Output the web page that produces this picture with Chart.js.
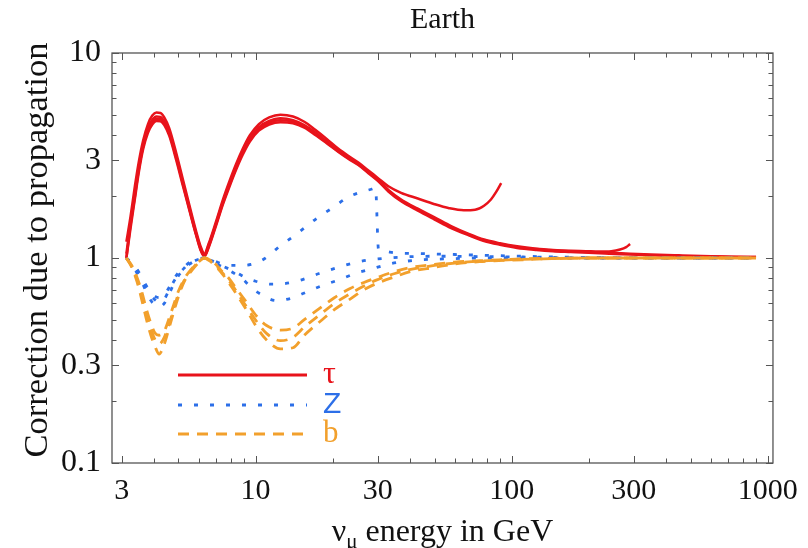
<!DOCTYPE html>
<html lang="en">
<head>
<meta charset="UTF-8">
<title>Earth - correction due to propagation</title>
<style>
  body { margin: 0; background: #fff; }
  #chart { display: block; }
</style>
</head>
<body>
<canvas id="chart" width="808" height="548"></canvas>
<script src="https://cdn.jsdelivr.net/npm/chart.js@4.4.9/dist/chart.umd.min.js"></script>
<script>
// tick labels
const xTickValues = [3, 10, 30, 100, 300, 1000];
const yTickValues = [0.1, 0.3, 1, 3, 10];

// tau curves (solid red): shared energies up to 30 GeV, then separate tails
const tauE = [3.13, 3.25, 3.38, 3.5, 3.64, 3.8, 3.95, 4.1, 4.25, 4.4, 4.6, 4.9, 5.2, 5.52, 5.85, 6.1, 6.31, 6.55, 7.0, 7.45, 7.9, 8.4, 8.9, 9.5, 10.3, 11.3, 12.5, 14, 15.5, 17.1, 19, 21, 23, 25.2, 27.5, 30];
const tauA = [1.2, 1.6, 2.25, 2.95, 3.75, 4.5, 4.95, 5.12, 5.1, 4.85, 4.3, 3.25, 2.42, 1.8, 1.36, 1.14, 1.05, 1.17, 1.5, 1.92, 2.36, 2.88, 3.4, 3.97, 4.5, 4.85, 5.0, 4.9, 4.62, 4.22, 3.8, 3.42, 3.15, 2.92, 2.68, 2.46];
const tauB = [1.05, 1.5, 2.1, 2.8, 3.6, 4.3, 4.72, 4.9, 4.88, 4.65, 4.15, 3.15, 2.35, 1.75, 1.33, 1.12, 1.03, 1.15, 1.47, 1.88, 2.3, 2.8, 3.3, 3.85, 4.35, 4.67, 4.8, 4.7, 4.45, 4.1, 3.7, 3.35, 3.1, 2.88, 2.64, 2.42];
const tauC = [1.0, 1.45, 2.0, 2.7, 3.5, 4.2, 4.6, 4.78, 4.77, 4.55, 4.05, 3.08, 2.3, 1.72, 1.31, 1.1, 1.02, 1.13, 1.45, 1.85, 2.26, 2.75, 3.25, 3.78, 4.27, 4.58, 4.7, 4.62, 4.38, 4.03, 3.65, 3.32, 3.07, 2.86, 2.62, 2.4];
const tauD = [1.0, 1.4, 1.95, 2.62, 3.4, 4.08, 4.48, 4.66, 4.65, 4.45, 3.95, 3.0, 2.25, 1.7, 1.3, 1.09, 1.02, 1.12, 1.43, 1.82, 2.22, 2.7, 3.18, 3.7, 4.18, 4.48, 4.6, 4.54, 4.32, 3.98, 3.62, 3.3, 3.05, 2.84, 2.6, 2.38];

const tailAE = [33, 37, 43, 50, 57, 65, 72, 78, 83, 87, 91];
const tailA = [2.24, 2.08, 1.95, 1.83, 1.75, 1.71, 1.72, 1.8, 1.93, 2.1, 2.32];
const tailBE = [33, 37, 43, 50, 58, 68, 78, 90, 105, 125, 145, 170, 195, 220, 245, 265, 280, 290];
const tailB = [2.15, 1.93, 1.74, 1.58, 1.43, 1.31, 1.23, 1.18, 1.14, 1.11, 1.095, 1.085, 1.08, 1.075, 1.08, 1.1, 1.13, 1.17];
const tailCE = [33, 37, 43, 50, 58, 68, 78, 90, 105, 125, 145, 170, 200, 240, 290, 350, 450, 600, 750, 900];
const tailC = [2.13, 1.91, 1.72, 1.56, 1.42, 1.3, 1.22, 1.17, 1.13, 1.105, 1.09, 1.08, 1.07, 1.06, 1.05, 1.04, 1.03, 1.02, 1.015, 1.01];
const tailD = [2.11, 1.89, 1.7, 1.54, 1.4, 1.29, 1.21, 1.16, 1.12, 1.095, 1.08, 1.07, 1.06, 1.05, 1.04, 1.03, 1.02, 1.015, 1.01, 1.01];

// Z curves (dotted blue)
const z1E = [3.13, 3.3, 3.47, 3.62, 3.75, 3.9, 4.05, 4.2, 4.4, 4.6, 4.8, 5.0, 5.25, 5.5, 5.8, 6.05, 6.31, 6.6, 7.0, 7.4, 8.0, 8.8, 9.6, 10.5, 11.3, 12.3, 14, 15.7, 17.8, 19.9, 22.8, 25.9, 28.5, 29.4, 30.2, 31.5, 35, 45, 60, 80, 110, 160, 250, 400, 600, 900];
const z1 = [1.0, 0.94, 0.87, 0.79, 0.73, 0.68, 0.65, 0.64, 0.66, 0.72, 0.79, 0.85, 0.9, 0.95, 0.98, 0.995, 1.0, 0.99, 0.96, 0.935, 0.92, 0.92, 0.93, 0.97, 1.03, 1.13, 1.27, 1.42, 1.6, 1.75, 1.97, 2.1, 2.17, 2.2, 1.1, 1.08, 1.06, 1.05, 1.04, 1.03, 1.02, 1.01, 1.005, 1.0, 1.0, 1.0];
const z2E = [3.13, 3.3, 3.47, 3.62, 3.75, 3.9, 4.05, 4.2, 4.4, 4.6, 4.8, 5.0, 5.25, 5.5, 5.8, 6.05, 6.31, 6.6, 7.0, 7.5, 8.4, 9.2, 10, 11.6, 13, 15, 17.7, 21, 24.5, 28, 33, 40, 55, 80, 120, 200, 400, 900];
const z2 = [1.0, 0.93, 0.85, 0.77, 0.71, 0.655, 0.625, 0.61, 0.63, 0.7, 0.77, 0.83, 0.89, 0.94, 0.97, 0.99, 1.0, 0.98, 0.95, 0.91, 0.85, 0.8, 0.77, 0.745, 0.75, 0.78, 0.84, 0.9, 0.95, 0.98, 1.0, 1.015, 1.02, 1.015, 1.01, 1.0, 1.0, 1.0];
const z3E = [3.13, 3.3, 3.47, 3.62, 3.75, 3.9, 4.05, 4.2, 4.4, 4.6, 4.8, 5.0, 5.25, 5.5, 5.8, 6.05, 6.31, 6.6, 7.0, 7.5, 8.4, 8.9, 9.7, 10.6, 12, 13.7, 15.5, 18, 21, 24.5, 28, 34, 42, 55, 80, 150, 400, 900];
const z3 = [1.0, 0.92, 0.83, 0.75, 0.68, 0.62, 0.59, 0.58, 0.6, 0.67, 0.75, 0.82, 0.88, 0.93, 0.97, 0.99, 1.0, 0.98, 0.94, 0.9, 0.83, 0.79, 0.71, 0.66, 0.62, 0.635, 0.675, 0.73, 0.78, 0.84, 0.88, 0.94, 0.975, 0.99, 1.0, 1.0, 1.0, 1.0];

// b curves (dashed orange), one energy grid
const bE = [3.13, 3.3, 3.45, 3.6, 3.75, 3.9, 4.05, 4.2, 4.4, 4.65, 5.0, 5.3, 5.6, 5.95, 6.31, 6.6, 7.0, 7.4, 7.9, 8.4, 9.2, 10.1, 11, 12.5, 14, 15.5, 18.2, 20.3, 23.4, 26.5, 29.6, 35, 40.4, 50, 60, 75, 89, 110, 133, 200, 400, 900];
const b1 = [1.0, 0.91, 0.8, 0.68, 0.56, 0.48, 0.43, 0.42, 0.44, 0.53, 0.69, 0.8, 0.88, 0.95, 1.0, 0.98, 0.93, 0.86, 0.79, 0.71, 0.61, 0.52, 0.47, 0.445, 0.455, 0.5, 0.58, 0.64, 0.71, 0.76, 0.8, 0.86, 0.9, 0.93, 0.955, 0.97, 0.98, 0.99, 0.995, 1.0, 1.0, 1.0];
const b2 = [1.0, 0.9, 0.78, 0.65, 0.53, 0.45, 0.4, 0.38, 0.41, 0.5, 0.67, 0.79, 0.87, 0.95, 1.0, 0.98, 0.92, 0.85, 0.77, 0.69, 0.58, 0.49, 0.43, 0.395, 0.41, 0.46, 0.54, 0.6, 0.67, 0.73, 0.78, 0.84, 0.88, 0.92, 0.945, 0.965, 0.975, 0.985, 0.99, 1.0, 1.0, 1.0];
const b3 = [1.0, 0.89, 0.76, 0.62, 0.5, 0.42, 0.37, 0.34, 0.38, 0.48, 0.65, 0.78, 0.86, 0.94, 1.0, 0.97, 0.91, 0.84, 0.75, 0.67, 0.56, 0.46, 0.4, 0.36, 0.365, 0.42, 0.5, 0.56, 0.63, 0.7, 0.75, 0.81, 0.86, 0.9, 0.935, 0.96, 0.97, 0.98, 0.99, 1.0, 1.0, 1.0];

const RED = '#e8131b';
const BLUE = '#2c6fe8';
const ORANGE = '#f2a02c';
const SERIF = '"Liberation Serif", "DejaVu Serif", serif';

function pts(xs, ys) {
  return xs.map((x, i) => ({ x: x, y: ys[i] }));
}

function curve(label, xs, ys, color, dash) {
  return {
    label: label,
    data: pts(xs, ys),
    borderColor: color,
    borderWidth: dash ? 2.8 : 2.5,
    borderDash: dash || [],
    pointRadius: 0,
    fill: false,
    cubicInterpolationMode: 'monotone'
  };
}

const DOT = [4, 12];
const DASH = [11, 8];

const datasets = [
  curve('b', bE, b1, ORANGE, DASH),
  curve('b', bE, b2, ORANGE, DASH),
  curve('b', bE, b3, ORANGE, DASH),
  curve('Z', z1E, z1, BLUE, DOT),
  curve('Z', z2E, z2, BLUE, DOT),
  curve('Z', z3E, z3, BLUE, DOT),
  curve('τ', tauE.concat(tailAE), tauA.concat(tailA), RED),
  curve('τ', tauE.concat(tailBE), tauB.concat(tailB), RED),
  curve('τ', tauE.concat(tailCE), tauC.concat(tailC), RED),
  curve('τ', tauE.concat(tailCE), tauD.concat(tailD), RED)
];

// minor tick positions for the inward tick marks
function logTicks(lo, hi) {
  const out = [];
  for (let p = Math.floor(Math.log10(lo)); p <= Math.ceil(Math.log10(hi)); p++) {
    for (let m = 1; m < 10; m++) {
      const v = m * Math.pow(10, p);
      if (v >= lo * 0.999 && v <= hi * 1.001) out.push(v);
    }
  }
  return out;
}

const decorations = {
  id: 'decorations',
  afterDraw(chart) {
    const ctx = chart.ctx;
    const a = chart.chartArea;
    const x = chart.scales.x;
    const y = chart.scales.y;
    ctx.save();

    // frame
    ctx.strokeStyle = '#555';
    ctx.lineWidth = 1.3;
    ctx.setLineDash([]);
    ctx.strokeRect(a.left, a.top, a.right - a.left, a.bottom - a.top);

    // inward ticks on all four sides
    ctx.lineWidth = 1;
    ctx.beginPath();
    logTicks(x.min, x.max).forEach(v => {
      const px = Math.round(x.getPixelForValue(v)) + 0.5;
      const len = xTickValues.includes(v) ? 7 : 4.5;
      ctx.moveTo(px, a.bottom); ctx.lineTo(px, a.bottom - len);
      ctx.moveTo(px, a.top); ctx.lineTo(px, a.top + len);
    });
    logTicks(y.min, y.max).forEach(v => {
      const py = Math.round(y.getPixelForValue(v)) + 0.5;
      const len = yTickValues.some(t => Math.abs(t - v) < 1e-9) ? 7 : 4.5;
      ctx.moveTo(a.left, py); ctx.lineTo(a.left + len, py);
      ctx.moveTo(a.right, py); ctx.lineTo(a.right - len, py);
    });
    ctx.stroke();

    // legend inside the plot
    const items = [
      { text: 'τ', color: RED, dash: [], width: 3, font: '32px ' + SERIF, y: 375 },
      { text: 'Z', color: BLUE, dash: DOT, width: 3, font: '30px "Liberation Sans", sans-serif', y: 405 },
      { text: 'b', color: ORANGE, dash: DASH, width: 3, font: '31px ' + SERIF, y: 434 }
    ];
    items.forEach(it => {
      ctx.strokeStyle = it.color;
      ctx.lineWidth = it.width;
      ctx.setLineDash(it.dash);
      ctx.beginPath();
      ctx.moveTo(178, it.y);
      ctx.lineTo(307, it.y);
      ctx.stroke();
      ctx.setLineDash([]);
      ctx.fillStyle = it.color;
      ctx.font = it.font;
      ctx.textAlign = 'left';
      ctx.textBaseline = 'middle';
      ctx.fillText(it.text, 323, it.y);
    });

    // title
    ctx.fillStyle = '#111';
    ctx.font = '30px ' + SERIF;
    ctx.textAlign = 'center';
    ctx.textBaseline = 'alphabetic';
    const cx = (a.left + a.right) / 2;
    ctx.fillText('Earth', cx, 28);

    // y axis title
    ctx.save();
    ctx.translate(47, 250);
    ctx.rotate(-Math.PI / 2);
    ctx.font = '34.5px ' + SERIF;
    ctx.textAlign = 'center';
    ctx.fillText('Correction due to propagation', 0, 0);
    ctx.restore();

    // x axis title with subscript mu
    ctx.font = '32px ' + SERIF;
    ctx.textAlign = 'left';
    const nu = 'ν', mu = 'μ', rest = ' energy in GeV';
    const wNu = ctx.measureText(nu).width;
    const wRest = ctx.measureText(rest).width;
    ctx.font = '21px ' + SERIF;
    const wMu = ctx.measureText(mu).width;
    const tx = cx - (wNu + wMu + wRest) / 2;
    const base = 541;
    ctx.font = '32px ' + SERIF;
    ctx.fillText(nu, tx, base);
    ctx.font = '21px ' + SERIF;
    ctx.fillText(mu, tx + wNu, base + 7);
    ctx.font = '32px ' + SERIF;
    ctx.fillText(rest, tx + wNu + wMu, base);

    ctx.restore();
  }
};

new Chart(document.getElementById('chart'), {
  type: 'line',
  data: { datasets: datasets },
  options: {
    responsive: false,
    animation: false,
    layout: { padding: { left: 0, right: 31, top: 53, bottom: 0 } },
    plugins: {
      legend: { display: false },
      title: { display: false },
      tooltip: { enabled: false }
    },
    scales: {
      x: {
        type: 'logarithmic',
        min: 2.75,
        max: 1048,
        grid: { display: false, drawTicks: false },
        border: { display: false },
        afterFit(scale) { scale.height = 85; },
        afterBuildTicks(scale) { scale.ticks = xTickValues.map(v => ({ value: v })); },
        ticks: {
          color: '#111',
          padding: 10,
          maxRotation: 0,
          autoSkip: false,
          font: { family: SERIF, size: 30 },
          callback: v => String(v)
        }
      },
      y: {
        type: 'logarithmic',
        min: 0.1,
        max: 10,
        grid: { display: false, drawTicks: false },
        border: { display: false },
        afterFit(scale) { scale.width = 112; },
        afterBuildTicks(scale) { scale.ticks = yTickValues.map(v => ({ value: v })); },
        ticks: {
          color: '#111',
          padding: 11,
          autoSkip: false,
          font: { family: SERIF, size: 32 },
          callback: v => String(v)
        }
      }
    }
  },
  plugins: [decorations]
});
</script>
</body>
</html>
